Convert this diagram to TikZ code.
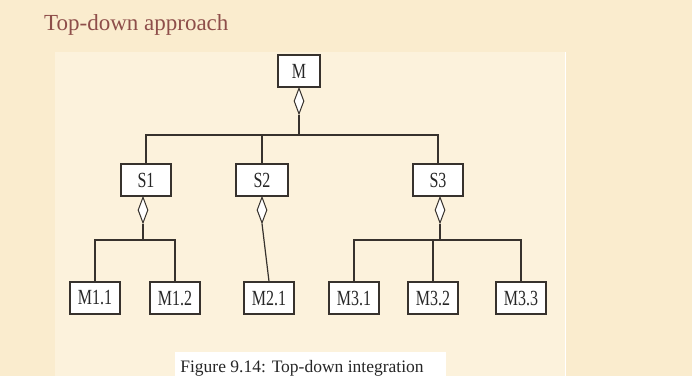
\documentclass[tikz,border=0pt]{standalone}
\usepackage{fontspec}
\setmainfont{Liberation Serif}
\usetikzlibrary{shapes.geometric}
\definecolor{parch}{RGB}{250,236,206}
\definecolor{panel}{RGB}{252,242,220}
\definecolor{titlec}{RGB}{142,78,74}
\definecolor{linec}{RGB}{55,50,45}
\newcommand{\tallt}[1]{\scalebox{1}[1.35]{#1}}
\tikzset{
  box/.style={draw=linec, fill=white, line width=1.1pt, inner sep=0pt, minimum height=32pt, font=\fontsize{16}{16}\selectfont, text=black!85},
  dia/.style={draw=linec, fill=white, line width=1pt, diamond, aspect=0.4, inner sep=0pt, minimum width=10pt, minimum height=26pt, anchor=north},
  conn/.style={draw=linec, line width=1.2pt}
}
\begin{document}
\begin{tikzpicture}[x=1pt,y=-1pt]
\fill[parch] (0,0) rectangle (692,376);
\useasboundingbox (0,0) rectangle (692,376);
\fill[panel] (55,52) rectangle (565,376);
\draw[white, line width=0.8pt] (565,52) -- (565,376);
\node[anchor=base west, text=titlec, font=\fontsize{23}{23}\selectfont, inner sep=0pt] (title) at (44,30) {Top-down approach};
% boxes
\node[box, minimum width=42pt] (M) at (299,71) {\tallt{M}};
\node[box, minimum width=50pt] (S1) at (146,180) {\tallt{S1}};
\node[box, minimum width=52pt] (S2) at (262,180) {\tallt{S2}};
\node[box, minimum width=50pt] (S3) at (438,180) {\tallt{S3}};
\node[box, minimum width=50pt] (M11) at (95,298) {\tallt{M1.1}};
\node[box, minimum width=50pt] (M12) at (175,298) {\tallt{M1.2}};
\node[box, minimum width=50pt] (M21) at (269,298) {\tallt{M2.1}};
\node[box, minimum width=50pt] (M31) at (354,298) {\tallt{M3.1}};
\node[box, minimum width=50pt] (M32) at (433,298) {\tallt{M3.2}};
\node[box, minimum width=50pt] (M33) at (521,298) {\tallt{M3.3}};
% diamonds
\node[dia] (dM) at (M.south) {};
\node[dia] (dS1) at ([xshift=-3pt]S1.south) {};
\node[dia] (dS2) at (S2.south) {};
\node[dia] (dS3) at ([xshift=2pt]S3.south) {};
% junctions
\coordinate (jM) at (299,135);
\coordinate (jS1) at (143,240);
\coordinate (jS3) at (440,240);
% connectors
\draw[conn] (dM.south) -- (jM);
\draw[conn] (jM) -| (S1.north);
\draw[conn] (jM) -| (S2.north);
\draw[conn] (jM) -| (S3.north);
\draw[conn] (dS1.south) -- (jS1);
\draw[conn] (jS1) -| (M11.north);
\draw[conn] (jS1) -| (M12.north);
\draw[conn] (dS2.south) -- (M21.north);
\draw[conn] (dS3.south) -- (jS3);
\draw[conn] (jS3) -| (M31.north);
\draw[conn] (jS3) -| (M32.north);
\draw[conn] (jS3) -| (M33.north);
% caption
\fill[white] (175,352) rectangle (446,376);
\node[anchor=base, font=\fontsize{17.5}{17.5}\selectfont, inner sep=0pt, text=black!85] (cap) at (302,372) {Figure 9.14: Top-down integration};
\end{tikzpicture}
\end{document}
